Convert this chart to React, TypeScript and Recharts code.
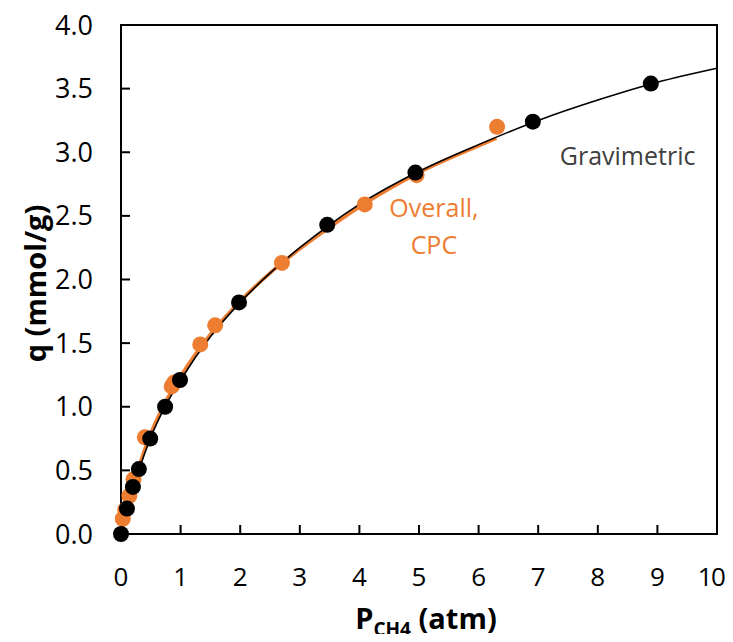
import React from 'react';
import { ComposedChart, Line, Scatter, XAxis, YAxis, ReferenceArea, ReferenceDot, Label } from 'recharts';

// Pressure ticks (atm) and uptake ticks (mmol/g)
const xTicks = [0, 1, 2, 3, 4, 5, 6, 7, 8, 9, 10];
const yTicks = [0, 0.5, 1, 1.5, 2, 2.5, 3, 3.5, 4];

// Gravimetric measured points
const gravP = [0, 0.1, 0.2, 0.3, 0.49, 0.74, 0.99, 1.98, 3.46, 4.94, 6.91, 8.89];
const gravQ = [0, 0.2, 0.37, 0.51, 0.75, 1.0, 1.21, 1.82, 2.43, 2.84, 3.24, 3.54];

// Overall, CPC measured points
const cpcP = [0.03, 0.07, 0.14, 0.21, 0.4, 0.85, 0.89, 1.33, 1.58, 2.7, 4.09, 4.96, 6.31];
const cpcQ = [0.12, 0.19, 0.3, 0.43, 0.76, 1.16, 1.19, 1.49, 1.64, 2.13, 2.59, 2.82, 3.2];

// Fitted isotherm curves
const gravFitP = [0, 0.1, 0.2, 0.3, 0.5, 0.75, 1, 1.5, 2, 2.5, 3, 3.5, 4, 5, 6, 7, 8, 9, 10];
const gravFitQ = [0, 0.19, 0.35, 0.5, 0.76, 1.01, 1.21, 1.55, 1.82, 2.05, 2.25, 2.43, 2.59, 2.85, 3.06, 3.25, 3.41, 3.55, 3.66];
const cpcFitP = [0, 0.1, 0.2, 0.3, 0.5, 0.75, 1, 1.5, 2, 2.5, 3, 3.5, 4, 5, 6, 6.3];
const cpcFitQ = [0, 0.21, 0.38, 0.53, 0.79, 1.04, 1.24, 1.57, 1.83, 2.05, 2.24, 2.41, 2.57, 2.84, 3.05, 3.11];

const gravLabel = 'Gravimetric';
const cpcLabel1 = 'Overall,';
const cpcLabel2 = 'CPC';

const zip = (ps: number[], qs: number[]) => ps.map((p, i) => ({ p, q: qs[i] }));
const gravData = zip(gravP, gravQ);
const cpcData = zip(cpcP, cpcQ);
const gravFit = zip(gravFitP, gravFitQ);
const cpcFit = zip(cpcFitP, cpcFitQ);

const ORANGE = '#ED7D31';
const FONT = '"Open Sans", sans-serif';

const dotShape = (color: string) => (props: any) => (
  <circle cx={props.cx} cy={props.cy} r={8} fill={color} />
);

const XLabel = (props: any) => {
  const vb = props.viewBox;
  const cx = vb.x + vb.width / 2 + 7;
  return (
    <text x={cx} y={621} textAnchor="middle" fontFamily={FONT} fontWeight="bold" fontSize={29} fill="#000">
      <tspan>P</tspan>
      <tspan fontSize={19} dy={7}>CH4</tspan>
      <tspan dy={-7}> (atm)</tspan>
    </text>
  );
};

const YLabel = (props: any) => {
  const vb = props.viewBox;
  const cy = vb.y + vb.height / 2 + 4;
  return (
    <text x={0} y={0} transform={`translate(26, ${cy}) rotate(-90)`} textAnchor="middle" dominantBaseline="central"
      fontFamily={FONT} fontWeight="bold" fontSize={29} fill="#000">
      q (mmol/g)
    </text>
  );
};

const XTick = (props: any) => {
  const { x, y, payload, index } = props;
  const last = index === xTicks.length - 1;
  return (
    <text x={x} y={y} dy="0.71em" dx={last ? -6 : 0} letterSpacing={last ? -1.5 : 0}
      textAnchor="middle" fontFamily={FONT} fontSize={26} fill="#000">
      {payload.value}
    </text>
  );
};

export default function App() {
  return (
    <div>
      <style>{'html,body{overflow:hidden}.recharts-wrapper,.recharts-surface{overflow:visible !important}'}</style>
      <ComposedChart width={725} height={626} margin={{ top: 17, right: 16, bottom: 0, left: 0 }} style={{ fontFamily: FONT }}>
        <XAxis
          type="number"
          dataKey="p"
          domain={[0, 10]}
          ticks={xTicks}
          height={100}
          axisLine={false}
          tickSize={-9}
          tickMargin={43}
          tickLine={{ stroke: '#000', strokeWidth: 2 }}
          tick={<XTick />}
          interval={0}
        >
          <Label content={<XLabel />} />
        </XAxis>
        <YAxis
          type="number"
          dataKey="q"
          domain={[0, 4]}
          ticks={yTicks}
          width={113}
          axisLine={false}
          tickSize={-9}
          tickMargin={37}
          tickLine={{ stroke: '#000', strokeWidth: 2 }}
          tick={{ fill: '#000', fontSize: 27, fontFamily: FONT }}
          tickFormatter={(v: number) => v.toFixed(1)}
          interval={0}
        >
          <Label content={<YLabel />} />
        </YAxis>
        <ReferenceArea x1={0} x2={10} y1={0} y2={4} fill="none" fillOpacity={0} stroke="#000" strokeWidth={2} ifOverflow="visible" />
        <Line data={cpcFit} dataKey="q" type="monotone" stroke={ORANGE} strokeWidth={3.5} dot={false} activeDot={false} isAnimationActive={false} />
        <Line data={gravFit} dataKey="q" type="monotone" stroke="#000" strokeWidth={1.6} dot={false} activeDot={false} isAnimationActive={false} />
        <Scatter data={cpcData} dataKey="q" shape={dotShape(ORANGE)} isAnimationActive={false} />
        <Scatter data={gravData} dataKey="q" shape={dotShape('#000')} isAnimationActive={false} />
        <ReferenceDot x={8.5} y={2.97} r={1} fill="none" stroke="none"
          label={{ value: gravLabel, position: 'center', fill: '#404040', fontSize: 25, fontFamily: FONT }} />
        <ReferenceDot x={5.25} y={2.56} r={1} fill="none" stroke="none"
          label={{ value: cpcLabel1, position: 'center', fill: ORANGE, fontSize: 25, fontFamily: FONT }} />
        <ReferenceDot x={5.25} y={2.27} r={1} fill="none" stroke="none"
          label={{ value: cpcLabel2, position: 'center', fill: ORANGE, fontSize: 25, fontFamily: FONT }} />
      </ComposedChart>
    </div>
  );
}
